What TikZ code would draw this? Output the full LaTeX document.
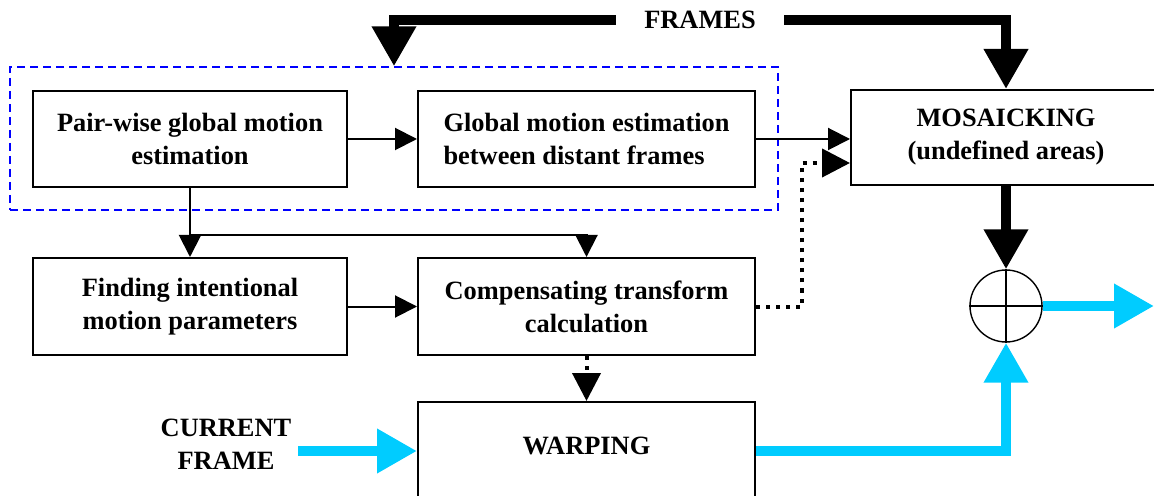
\documentclass[tikz,border=0pt]{standalone}
\usepackage{fontspec}
\setmainfont{Liberation Serif}
\usepackage{xcolor}
\usepackage{tikz}
\usetikzlibrary{arrows.meta,positioning,calc}
\definecolor{flowcyan}{HTML}{00CCFF}

\begin{document}
\begin{tikzpicture}[
    x=0.5pt, y=-0.5pt,
    every node/.style={font=\fontsize{13.2}{16.5}\selectfont\bfseries},
    block/.style={draw, line width=1pt, align=center, inner sep=0pt},
    thinarrow/.style={line width=1pt, -{Triangle[width=11pt,length=11pt]}},
    dotarrow/.style={line width=2pt, dash pattern=on 2pt off 3pt, -{Triangle[width=14pt,length=14pt]}},
    bigarrow/.style={line width=5pt, -{Triangle[width=21pt,length=20pt]}},
    videoarrow/.style={bigarrow, color=flowcyan}
]
\useasboundingbox (0,0) rectangle (1154,496);

% Estimation group (dashed)
\node[draw=blue, line width=0.7pt, dash pattern=on 4pt off 2.5pt,
      minimum width=384pt, minimum height=71.5pt] (group) at (394,138.5) {};

% Blocks
\node[block, minimum width=157pt, minimum height=48pt] (pairwise) at (190,139)
    {Pair-wise global motion\\estimation};
\node[block, align=left, minimum width=168.5pt, minimum height=48pt] (distant) at (586.5,139)
    {Global motion estimation\\between distant frames};
\node[block, minimum width=155pt, minimum height=47.5pt] (mosaic) at (1006,137.5)
    {MOSAICKING\\(undefined areas)};
\node[block, minimum width=157pt, minimum height=48.5pt] (intent) at (190,306.5)
    {Finding intentional\\motion parameters};
\node[block, minimum width=168.5pt, minimum height=48.5pt] (comp) at (586.5,306.5)
    {Compensating transform\\calculation};
\node[block, minimum width=168.5pt, minimum height=49pt] (warp) at (586.5,451) {};
\node at (586.5,446) {WARPING};

% Adder
\node[draw, circle, line width=0.7pt, minimum size=36pt, inner sep=0pt] (sum) at (1006,306) {};
\draw[line width=0.7pt] (sum.north) -- (sum.south) (sum.west) -- (sum.east);

% Labels
\node[inner xsep=14pt] (frames) at (700,20) {FRAMES};
\node[align=center] (current) at (226,444) {CURRENT\\FRAME};

% Helper points
\coordinate (split) at (190,235);
\coordinate (bend) at (802,163);
\coordinate (in) at (298,451);
\coordinate (out) at (1154,306);

% Frames input
\draw[bigarrow] (frames.west) -| (group.north);
\draw[bigarrow] (frames.east) -| (mosaic.north);
\draw[bigarrow] (mosaic.south) -- (sum.north);

% Motion estimation flow
\draw[thinarrow] (pairwise.east) -- (distant.west);
\draw[thinarrow] (distant.east) -- (distant.east -| mosaic.west);
\draw[thinarrow] (pairwise.south) -- (intent.north);
\draw[thinarrow] (split) -| (comp.north);
\draw[thinarrow] (intent.east) -- (comp.west);

% Transform paths (dotted)
\draw[dotarrow] (comp.east) -| (bend) -- (bend -| mosaic.west);
\draw[dotarrow] (comp.south) -- (warp.north);

% Video paths
\draw[videoarrow] (in) -- (warp.west);
\draw[videoarrow] (warp.east |- in) -| (sum.south);
\draw[videoarrow] (sum.east) -- (out);

\end{tikzpicture}
\end{document}
